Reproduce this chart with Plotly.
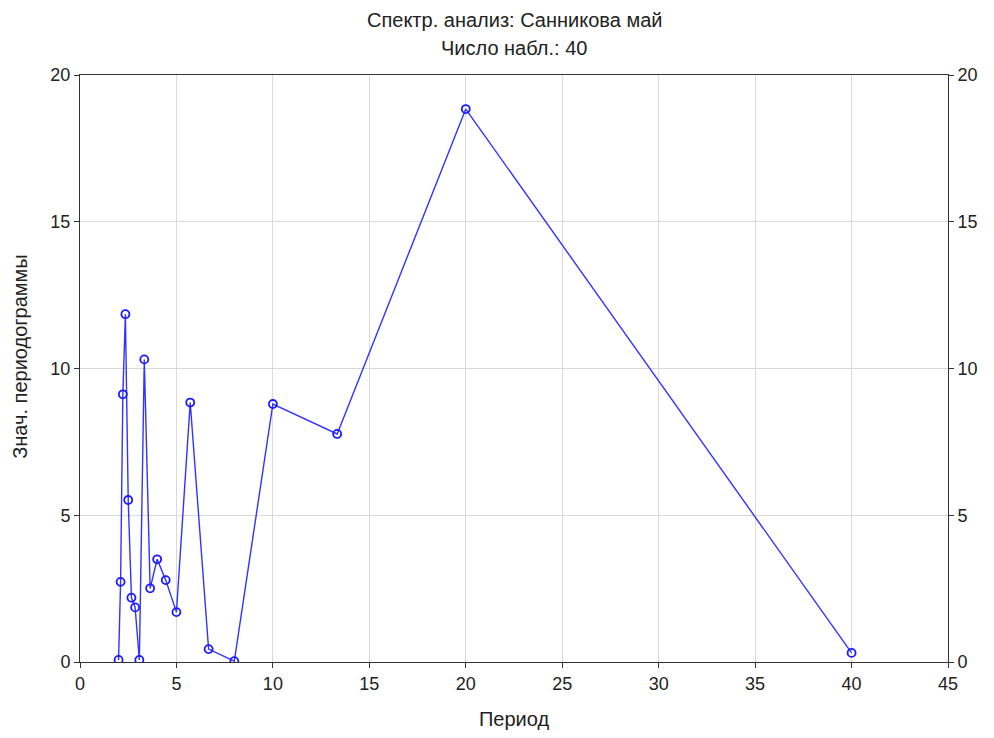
import plotly.graph_objects as go

period = [40.0, 20.0, 13.333, 10.0, 8.0, 6.667, 5.714, 5.0, 4.444, 4.0,
          3.636, 3.333, 3.077, 2.857, 2.667, 2.5, 2.353, 2.222, 2.105, 2.0]
values = [0.31, 18.84, 7.77, 8.79, 0.03, 0.44, 8.84, 1.70, 2.79, 3.50,
          2.51, 10.31, 0.07, 1.86, 2.19, 5.52, 11.85, 9.12, 2.73, 0.07]

title_lines = ["Спектр. анализ: Санникова май", "Число набл.: 40"]
x_title = "Период"
y_title = "Знач. периодограммы"

fig = go.Figure()
fig.add_trace(go.Scatter(
    x=period, y=values, mode="lines+markers",
    line=dict(color="#3333ff", width=1.4),
    marker=dict(symbol="circle-open", size=8, color="#1a1aff", line=dict(width=1.8)),
    showlegend=False, hoverinfo="x+y"))
fig.add_trace(go.Scatter(x=[0], y=[0], yaxis="y2", mode="markers",
                         marker=dict(opacity=0), showlegend=False, hoverinfo="skip"))

font = "Liberation Sans, Arial, sans-serif"
for i, t in enumerate(title_lines):
    fig.add_annotation(text=t, xref="paper", yref="paper", x=0.5, y=1,
                       xanchor="center", yanchor="middle", showarrow=False,
                       yshift=(75 - 20) - i * 28,
                       font=dict(size=20, family=font, color="#222222"))
fig.add_annotation(text=y_title, xref="paper", yref="paper", x=0, y=0.52,
                   xanchor="center", yanchor="middle", showarrow=False,
                   textangle=-90, xshift=-60,
                   font=dict(size=20, family=font, color="#222222"))

fig.update_layout(
    width=994, height=738,
    margin=dict(l=72, r=54, t=67, b=84, autoexpand=False),
    paper_bgcolor="white", plot_bgcolor="white",
    font=dict(family=font, color="#222222", size=18),
    xaxis=dict(range=[0, 45], dtick=5, showgrid=True, gridcolor="#d9d9d9",
               ticks="outside", ticklen=5, tickcolor="#333", linecolor="#333",
               showline=True, mirror=True, zeroline=False, automargin=False,
               tickfont=dict(size=18),
               title=dict(text=x_title, font=dict(size=20), standoff=19)),
    yaxis=dict(range=[0, 20], dtick=5, showgrid=True, gridcolor="#d9d9d9",
               ticks="outside", ticklen=5, tickcolor="#333", linecolor="#333",
               showline=True, mirror=True, zeroline=False, automargin=False,
               tickfont=dict(size=18)),
    yaxis2=dict(range=[0, 20], dtick=5, overlaying="y", side="right",
                showgrid=False, ticks="outside", ticklen=5, tickcolor="#333",
                zeroline=False, showline=False, automargin=False,
                tickfont=dict(size=18)),
)
fig.write_html("out.html")
